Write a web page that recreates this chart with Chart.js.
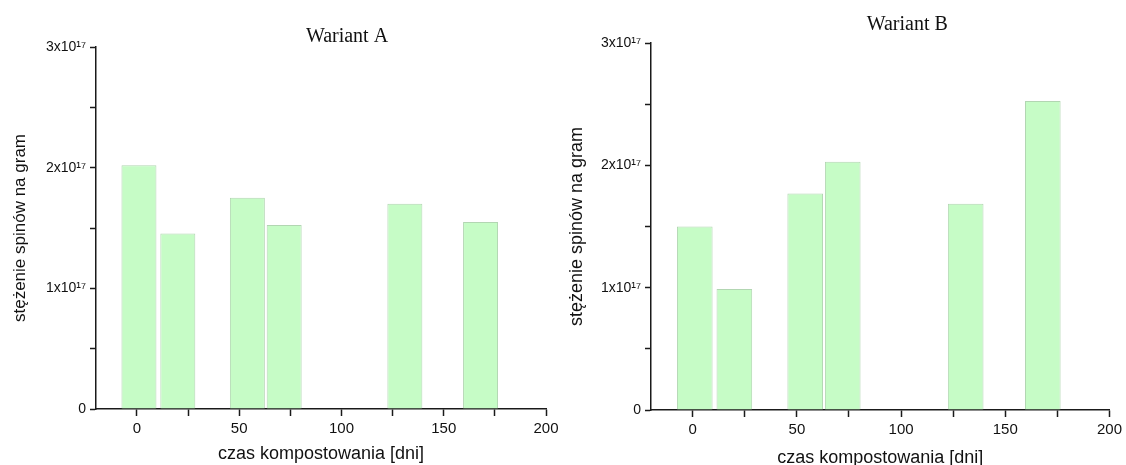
<!DOCTYPE html>
<html>
<head>
<meta charset="utf-8">
<script src="https://cdn.jsdelivr.net/npm/chart.js@4"></script>
<style>
  body { margin: 0; background: #fff; }
  .panel { position: absolute; top: 0; }
</style>
</head>
<body>
<div class="panel" style="left:0"><canvas id="chartA" width="563" height="465"></canvas></div>
<div class="panel" style="left:563px"><canvas id="chartB" width="563" height="465"></canvas></div>
<script>
// days of composting
const days = [1, 20, 54, 72, 131, 168];
// spin concentration per gram
const wariantA = [2.02e17, 1.455e17, 1.75e17, 1.525e17, 1.70e17, 1.55e17];
const wariantB = [1.50e17, 0.99e17, 1.77e17, 2.03e17, 1.685e17, 2.525e17];
const yTickLabels = { 0: '0', 1: '1x10¹⁷', 2: '2x10¹⁷', 3: '3x10¹⁷' };

const axisColor = '#1a1a1a';
const sans = 'Liberation Sans';

// draws the "Wariant X" heading above the plot
const panelTitle = {
    id: 'panelTitle',
    afterDraw(chart, args, opts) {
        const { ctx, chartArea } = chart;
        ctx.save();
        ctx.font = '20px "Liberation Serif"';
        ctx.fillStyle = '#111';
        ctx.textAlign = 'center';
        ctx.textBaseline = 'middle';
        ctx.fillText(opts.text, (chartArea.left + chartArea.right) / 2 + opts.dx, chartArea.top + opts.dy);
        ctx.restore();
    }
};

function makeChart(id, values, cfg) {
    const ctx = document.getElementById(id).getContext('2d');
    new Chart(ctx, {
        type: 'bar',
        data: {
            datasets: [{
                data: days.map((d, i) => ({ x: d, y: values[i] })),
                backgroundColor: '#c6fcc6',
                borderColor: '#b2d6b2',
                borderWidth: 1,
                barPercentage: 1,
                categoryPercentage: 0.95
            }]
        },
        options: {
            responsive: false,
            animation: false,
            layout: { padding: { top: cfg.top, right: cfg.right, left: 0, bottom: 0 } },
            plugins: {
                legend: { display: false },
                tooltip: { enabled: false },
                panelTitle: { text: cfg.title, dx: cfg.titleDx, dy: cfg.titleDy }
            },
            scales: {
                x: {
                    type: 'linear',
                    min: -20,
                    max: 200,
                    offset: false,
                    afterFit: s => { s.height = cfg.xHeight; },
                    border: { display: true, color: axisColor, width: 1.5 },
                    grid: { display: true, offset: false, drawOnChartArea: false, tickLength: 7, tickColor: axisColor, tickWidth: 1.5 },
                    ticks: {
                        stepSize: 25,
                        includeBounds: false,
                        maxRotation: 0,
                        autoSkip: false,
                        padding: 4,
                        color: '#111',
                        font: { family: sans, size: 15 },
                        callback: v => (v % 50 === 0 ? String(v) : '')
                    },
                    title: {
                        display: true,
                        text: 'czas kompostowania [dni]',
                        color: '#111',
                        font: { family: sans, size: 18 },
                        padding: { top: 0, bottom: cfg.xTitlePad }
                    }
                },
                y: {
                    min: 0,
                    max: 3e17,
                    afterFit: s => { s.width = cfg.yWidth; },
                    border: { display: true, color: axisColor, width: 1.5 },
                    grid: { display: true, drawOnChartArea: false, tickLength: 6, tickColor: axisColor, tickWidth: 1.5 },
                    ticks: {
                        stepSize: 0.5e17,
                        padding: 4,
                        color: '#111',
                        font: { family: sans, size: 14 },
                        callback: v => {
                            const n = v / 1e17;
                            return Math.abs(n - Math.round(n)) < 1e-9 ? yTickLabels[Math.round(n)] : '';
                        }
                    },
                    title: {
                        display: true,
                        text: 'stężenie spinów na gram',
                        color: '#111',
                        font: { family: sans, size: cfg.yTitleSize },
                        padding: { top: cfg.yTitlePad, bottom: 0 }
                    }
                }
            }
        },
        plugins: [panelTitle]
    });
}

makeChart('chartA', wariantA, {
    title: 'Wariant A', titleDx: 26, titleDy: -10,
    top: 47, right: 17, yWidth: 96, xHeight: 56,
    yTitlePad: 10, yTitleSize: 17, xTitlePad: 0
});
makeChart('chartB', wariantB, {
    title: 'Wariant B', titleDx: 27, titleDy: -18,
    top: 43, right: 15, yWidth: 88, xHeight: 55,
    yTitlePad: 3, yTitleSize: 18, xTitlePad: -4
});
</script>
</body>
</html>
